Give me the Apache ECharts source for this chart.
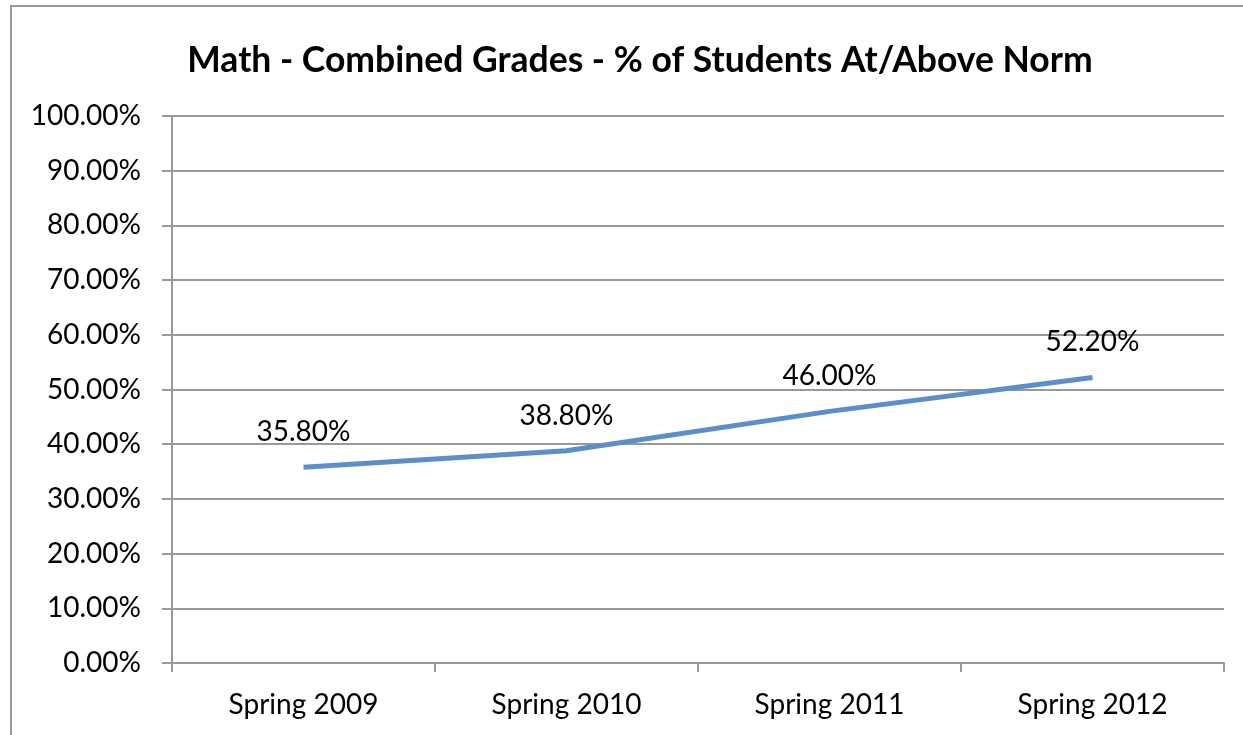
<!DOCTYPE html>
<html>
<head>
<meta charset="utf-8">
<script src="https://cdn.jsdelivr.net/npm/echarts@6/dist/echarts.min.js"></script>
<style>
  html, body { margin: 0; padding: 0; background: #fff; }
  #chart { width: 1243px; height: 735px; }
</style>
</head>
<body>
<div id="chart"></div>
<script>
  // data
  var seasons = ['Spring 2009', 'Spring 2010', 'Spring 2011', 'Spring 2012'];
  var pctAtNorm = [35.8, 38.8, 46.0, 52.2];

  var font = 'Lato, "Open Sans", sans-serif';
  var myChart = echarts.init(document.getElementById('chart'));

  myChart.setOption({
    animation: false,
    title: {
      text: 'Math - Combined Grades - % of Students At/Above Norm',
      left: 635,
      top: 38,
      textAlign: 'center',
      textStyle: { fontFamily: font, fontSize: 35.5, fontWeight: 'bold', color: '#000' }
    },
    // chart area frame (runs off right/bottom like the screenshot)
    graphic: [{
      type: 'rect',
      shape: { x: 11, y: 6, width: 1300, height: 800 },
      style: { fill: 'none', stroke: '#999', lineWidth: 2 },
      silent: true
    }],
    grid: { left: 172, right: 19, top: 116, bottom: 72 },
    xAxis: {
      type: 'category',
      data: seasons,
      boundaryGap: true,
      axisLine: { lineStyle: { color: '#999', width: 2 } },
      axisTick: { show: true, length: 9, interval: 0, lineStyle: { color: '#999', width: 2 } },
      axisLabel: { margin: 28, fontFamily: font, fontSize: 28, color: '#000' }
    },
    yAxis: {
      type: 'value',
      min: 0,
      max: 100,
      interval: 10,
      axisLine: { show: true, lineStyle: { color: '#999', width: 2 } },
      axisTick: { show: true, length: 10, lineStyle: { color: '#999', width: 2 } },
      splitLine: { lineStyle: { color: '#999', width: 2 } },
      axisLabel: {
        margin: 31,
        fontFamily: font, fontSize: 28, color: '#000',
        formatter: function (v) { return v.toFixed(2) + '%'; }
      }
    },
    series: [{
      type: 'line',
      data: pctAtNorm,
      symbol: 'circle',
      symbolSize: 2,
      itemStyle: { color: 'rgba(91,143,203,0)' },
      lineStyle: { color: '#5B8FCB', width: 5 },
      label: {
        show: true,
        position: 'top',
        distance: 20,
        fontFamily: font, fontSize: 28, color: '#000',
        formatter: function (p) { return p.value.toFixed(2) + '%'; }
      }
    }]
  });
</script>
</body>
</html>
